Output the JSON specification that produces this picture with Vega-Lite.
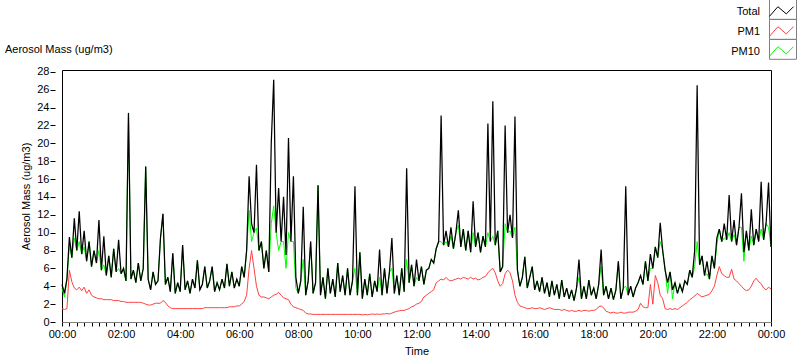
{
"$schema": "https://vega.github.io/schema/vega-lite/v6.json",
"width": 709, "height": 252,
"autosize": "none",
"padding": {"left": 62, "top": 70, "right": 29, "bottom": 39},
"background": "white",
"config": {"font": "Liberation Sans", "view": {"stroke": "black", "strokeWidth": 1}, "axisY": {"labelOverlap": false, "values": [0,2,4,6,8,10,12,14,16,18,20,22,24,26,28]}},
"title": {"text": "Aerosol Mass (ug/m3)", "anchor": "start", "frame": "group", "orient": "top", "dx": -57, "dy": 82, "offset": 17, "baseline": "alphabetic", "fontSize": 11, "fontWeight": "normal", "font": "Liberation Sans", "color": "black"},
"data": {"values": [
{"m":0,"Total":4.2,"PM1":1.5,"PM10":3.8},
{"m":5,"Total":3.2,"PM1":1.4,"PM10":2.8},
{"m":10,"Total":4.8,"PM1":1.5,"PM10":4.8},
{"m":15,"Total":9.5,"PM1":5.8,"PM10":8.6},
{"m":20,"Total":7.2,"PM1":4.5,"PM10":7.2},
{"m":25,"Total":11.6,"PM1":3.8,"PM10":9.4},
{"m":30,"Total":8.0,"PM1":3.6,"PM10":8.0},
{"m":35,"Total":12.4,"PM1":3.9,"PM10":9.0},
{"m":40,"Total":7.6,"PM1":3.5,"PM10":7.6},
{"m":45,"Total":10.2,"PM1":3.9,"PM10":8.4},
{"m":50,"Total":6.8,"PM1":3.2,"PM10":6.8},
{"m":55,"Total":9.0,"PM1":3.6,"PM10":9.0},
{"m":60,"Total":6.2,"PM1":3.0,"PM10":6.2},
{"m":65,"Total":8.0,"PM1":2.8,"PM10":8.0},
{"m":70,"Total":6.6,"PM1":2.7,"PM10":6.6},
{"m":75,"Total":11.4,"PM1":2.6,"PM10":8.0},
{"m":80,"Total":5.8,"PM1":2.6,"PM10":5.8},
{"m":85,"Total":9.6,"PM1":2.5,"PM10":6.4},
{"m":90,"Total":5.2,"PM1":2.5,"PM10":5.2},
{"m":95,"Total":7.4,"PM1":2.5,"PM10":7.4},
{"m":100,"Total":5.0,"PM1":2.5,"PM10":5.0},
{"m":105,"Total":8.2,"PM1":2.4,"PM10":8.2},
{"m":110,"Total":5.6,"PM1":2.4,"PM10":5.6},
{"m":115,"Total":9.2,"PM1":2.4,"PM10":6.0},
{"m":120,"Total":5.4,"PM1":2.3,"PM10":5.4},
{"m":125,"Total":6.0,"PM1":2.3,"PM10":6.0},
{"m":130,"Total":4.6,"PM1":2.2,"PM10":4.6},
{"m":135,"Total":23.4,"PM1":2.2,"PM10":23.4},
{"m":140,"Total":4.8,"PM1":2.2,"PM10":4.8},
{"m":145,"Total":5.8,"PM1":2.2,"PM10":5.8},
{"m":150,"Total":4.4,"PM1":2.2,"PM10":4.4},
{"m":155,"Total":6.6,"PM1":2.2,"PM10":6.6},
{"m":160,"Total":4.6,"PM1":2.2,"PM10":4.6},
{"m":165,"Total":6.0,"PM1":2.1,"PM10":6.0},
{"m":170,"Total":17.4,"PM1":2.0,"PM10":17.4},
{"m":175,"Total":4.8,"PM1":1.9,"PM10":4.8},
{"m":180,"Total":3.6,"PM1":1.9,"PM10":3.6},
{"m":185,"Total":5.6,"PM1":2.0,"PM10":5.6},
{"m":190,"Total":4.2,"PM1":2.1,"PM10":4.2},
{"m":195,"Total":4.6,"PM1":2.1,"PM10":4.6},
{"m":200,"Total":9.4,"PM1":2.1,"PM10":9.4},
{"m":205,"Total":12.1,"PM1":2.4,"PM10":12.1},
{"m":210,"Total":4.2,"PM1":2.2,"PM10":4.2},
{"m":215,"Total":5.0,"PM1":1.8,"PM10":5.0},
{"m":220,"Total":3.4,"PM1":1.6,"PM10":3.4},
{"m":225,"Total":7.7,"PM1":1.5,"PM10":7.7},
{"m":230,"Total":3.2,"PM1":1.5,"PM10":3.2},
{"m":235,"Total":4.4,"PM1":1.5,"PM10":4.4},
{"m":240,"Total":3.4,"PM1":1.5,"PM10":3.4},
{"m":245,"Total":8.6,"PM1":1.5,"PM10":8.6},
{"m":250,"Total":3.6,"PM1":1.5,"PM10":3.6},
{"m":255,"Total":4.6,"PM1":1.5,"PM10":4.6},
{"m":260,"Total":3.2,"PM1":1.5,"PM10":3.2},
{"m":265,"Total":4.8,"PM1":1.5,"PM10":4.8},
{"m":270,"Total":3.8,"PM1":1.5,"PM10":3.8},
{"m":275,"Total":6.9,"PM1":1.5,"PM10":6.9},
{"m":280,"Total":3.6,"PM1":1.5,"PM10":3.6},
{"m":285,"Total":4.2,"PM1":1.5,"PM10":4.2},
{"m":290,"Total":6.2,"PM1":1.6,"PM10":6.2},
{"m":295,"Total":3.8,"PM1":1.6,"PM10":3.8},
{"m":300,"Total":4.6,"PM1":1.6,"PM10":4.6},
{"m":305,"Total":6.2,"PM1":1.6,"PM10":6.2},
{"m":310,"Total":3.4,"PM1":1.6,"PM10":3.4},
{"m":315,"Total":4.4,"PM1":1.6,"PM10":4.4},
{"m":320,"Total":3.6,"PM1":1.6,"PM10":3.6},
{"m":325,"Total":4.8,"PM1":1.6,"PM10":4.8},
{"m":330,"Total":3.8,"PM1":1.6,"PM10":3.8},
{"m":335,"Total":6.5,"PM1":1.6,"PM10":6.5},
{"m":340,"Total":4.0,"PM1":1.7,"PM10":4.0},
{"m":345,"Total":5.6,"PM1":1.7,"PM10":5.6},
{"m":350,"Total":3.8,"PM1":1.7,"PM10":3.8},
{"m":355,"Total":4.8,"PM1":1.8,"PM10":4.8},
{"m":360,"Total":4.0,"PM1":1.8,"PM10":4.0},
{"m":365,"Total":6.2,"PM1":2.0,"PM10":6.2},
{"m":370,"Total":5.0,"PM1":2.3,"PM10":5.0},
{"m":375,"Total":8.0,"PM1":3.0,"PM10":8.0},
{"m":380,"Total":16.3,"PM1":6.0,"PM10":12.5},
{"m":385,"Total":11.0,"PM1":8.0,"PM10":9.0},
{"m":390,"Total":10.0,"PM1":6.0,"PM10":10.0},
{"m":395,"Total":17.6,"PM1":4.0,"PM10":10.5},
{"m":400,"Total":8.0,"PM1":3.0,"PM10":8.0},
{"m":405,"Total":9.0,"PM1":2.8,"PM10":9.0},
{"m":410,"Total":6.0,"PM1":2.8,"PM10":6.0},
{"m":415,"Total":8.0,"PM1":2.7,"PM10":8.0},
{"m":420,"Total":5.6,"PM1":2.6,"PM10":5.6},
{"m":425,"Total":20.0,"PM1":2.8,"PM10":11.0},
{"m":430,"Total":27.1,"PM1":3.0,"PM10":13.0},
{"m":435,"Total":10.0,"PM1":3.1,"PM10":10.0},
{"m":440,"Total":15.0,"PM1":3.3,"PM10":8.0},
{"m":445,"Total":9.0,"PM1":3.0,"PM10":9.0},
{"m":450,"Total":14.0,"PM1":2.7,"PM10":9.0},
{"m":455,"Total":7.5,"PM1":2.6,"PM10":6.0},
{"m":460,"Total":20.6,"PM1":2.5,"PM10":10.0},
{"m":465,"Total":9.0,"PM1":2.0,"PM10":9.0},
{"m":470,"Total":16.3,"PM1":1.7,"PM10":9.0},
{"m":475,"Total":5.0,"PM1":1.6,"PM10":3.8},
{"m":480,"Total":3.2,"PM1":1.5,"PM10":3.2},
{"m":485,"Total":4.6,"PM1":1.4,"PM10":4.6},
{"m":490,"Total":12.9,"PM1":1.3,"PM10":7.0},
{"m":495,"Total":3.0,"PM1":1.0,"PM10":3.0},
{"m":500,"Total":4.6,"PM1":0.9,"PM10":4.6},
{"m":505,"Total":9.0,"PM1":0.9,"PM10":9.0},
{"m":510,"Total":3.2,"PM1":0.85,"PM10":3.2},
{"m":515,"Total":4.4,"PM1":0.85,"PM10":4.4},
{"m":520,"Total":15.3,"PM1":0.85,"PM10":15.3},
{"m":525,"Total":3.0,"PM1":0.85,"PM10":3.0},
{"m":530,"Total":5.0,"PM1":0.85,"PM10":5.0},
{"m":535,"Total":2.6,"PM1":0.85,"PM10":2.6},
{"m":540,"Total":6.0,"PM1":0.85,"PM10":6.0},
{"m":545,"Total":3.2,"PM1":0.85,"PM10":3.2},
{"m":550,"Total":4.8,"PM1":0.85,"PM10":4.8},
{"m":555,"Total":2.8,"PM1":0.85,"PM10":2.8},
{"m":560,"Total":6.6,"PM1":0.85,"PM10":6.6},
{"m":565,"Total":3.4,"PM1":0.85,"PM10":3.4},
{"m":570,"Total":5.2,"PM1":0.85,"PM10":5.2},
{"m":575,"Total":3.0,"PM1":0.85,"PM10":3.0},
{"m":580,"Total":6.0,"PM1":0.85,"PM10":6.0},
{"m":585,"Total":3.0,"PM1":0.85,"PM10":3.0},
{"m":590,"Total":4.6,"PM1":0.85,"PM10":4.6},
{"m":595,"Total":15.2,"PM1":0.85,"PM10":6.0},
{"m":600,"Total":3.0,"PM1":0.85,"PM10":3.0},
{"m":605,"Total":7.8,"PM1":0.85,"PM10":7.8},
{"m":610,"Total":2.6,"PM1":0.8,"PM10":2.6},
{"m":615,"Total":4.8,"PM1":0.85,"PM10":4.8},
{"m":620,"Total":3.0,"PM1":0.8,"PM10":3.0},
{"m":625,"Total":5.4,"PM1":0.85,"PM10":5.4},
{"m":630,"Total":2.8,"PM1":0.9,"PM10":2.8},
{"m":635,"Total":4.6,"PM1":0.85,"PM10":4.6},
{"m":640,"Total":3.4,"PM1":0.9,"PM10":3.4},
{"m":645,"Total":8.1,"PM1":0.85,"PM10":5.0},
{"m":650,"Total":3.0,"PM1":0.9,"PM10":3.0},
{"m":655,"Total":6.0,"PM1":0.9,"PM10":6.0},
{"m":660,"Total":3.2,"PM1":0.95,"PM10":3.2},
{"m":665,"Total":5.6,"PM1":0.9,"PM10":5.6},
{"m":670,"Total":9.4,"PM1":1.0,"PM10":6.0},
{"m":675,"Total":3.2,"PM1":1.1,"PM10":3.2},
{"m":680,"Total":5.2,"PM1":1.2,"PM10":5.2},
{"m":685,"Total":3.0,"PM1":1.25,"PM10":3.0},
{"m":690,"Total":6.0,"PM1":1.3,"PM10":6.0},
{"m":695,"Total":3.4,"PM1":1.3,"PM10":3.4},
{"m":700,"Total":17.2,"PM1":1.4,"PM10":7.0},
{"m":705,"Total":4.4,"PM1":1.5,"PM10":4.4},
{"m":710,"Total":6.4,"PM1":1.7,"PM10":6.4},
{"m":715,"Total":4.0,"PM1":1.8,"PM10":4.0},
{"m":720,"Total":7.0,"PM1":2.0,"PM10":5.0},
{"m":725,"Total":4.6,"PM1":2.1,"PM10":4.6},
{"m":730,"Total":6.2,"PM1":2.3,"PM10":6.2},
{"m":735,"Total":4.2,"PM1":2.8,"PM10":4.2},
{"m":740,"Total":5.8,"PM1":3.0,"PM10":5.8},
{"m":745,"Total":6.0,"PM1":3.2,"PM10":6.0},
{"m":750,"Total":7.0,"PM1":3.4,"PM10":7.0},
{"m":755,"Total":6.6,"PM1":3.6,"PM10":6.6},
{"m":760,"Total":8.2,"PM1":4.4,"PM10":8.2},
{"m":765,"Total":9.0,"PM1":4.6,"PM10":9.0},
{"m":770,"Total":23.1,"PM1":4.8,"PM10":9.0},
{"m":775,"Total":8.6,"PM1":4.7,"PM10":8.6},
{"m":780,"Total":10.2,"PM1":5.0,"PM10":9.0},
{"m":785,"Total":8.4,"PM1":4.7,"PM10":8.4},
{"m":790,"Total":10.6,"PM1":4.6,"PM10":9.6},
{"m":795,"Total":8.2,"PM1":4.7,"PM10":8.2},
{"m":800,"Total":10.0,"PM1":4.8,"PM10":10.0},
{"m":805,"Total":12.5,"PM1":4.9,"PM10":10.8},
{"m":810,"Total":8.4,"PM1":4.8,"PM10":8.4},
{"m":815,"Total":10.4,"PM1":5.0,"PM10":10.4},
{"m":820,"Total":8.0,"PM1":4.9,"PM10":8.0},
{"m":825,"Total":10.2,"PM1":4.8,"PM10":10.2},
{"m":830,"Total":7.8,"PM1":5.0,"PM10":7.8},
{"m":835,"Total":13.5,"PM1":4.8,"PM10":10.0},
{"m":840,"Total":8.4,"PM1":4.9,"PM10":8.4},
{"m":845,"Total":10.0,"PM1":4.7,"PM10":10.0},
{"m":850,"Total":7.8,"PM1":4.8,"PM10":7.8},
{"m":855,"Total":9.6,"PM1":5.0,"PM10":9.6},
{"m":860,"Total":8.4,"PM1":5.1,"PM10":8.4},
{"m":865,"Total":22.2,"PM1":5.5,"PM10":10.0},
{"m":870,"Total":9.0,"PM1":5.8,"PM10":9.0},
{"m":875,"Total":24.7,"PM1":6.0,"PM10":9.6},
{"m":880,"Total":8.6,"PM1":5.5,"PM10":8.6},
{"m":885,"Total":10.2,"PM1":4.6,"PM10":10.2},
{"m":890,"Total":5.6,"PM1":4.0,"PM10":5.6},
{"m":895,"Total":6.2,"PM1":4.3,"PM10":6.2},
{"m":900,"Total":22.0,"PM1":5.4,"PM10":11.0},
{"m":905,"Total":10.0,"PM1":5.8,"PM10":10.0},
{"m":910,"Total":12.0,"PM1":5.5,"PM10":10.2},
{"m":915,"Total":9.4,"PM1":4.6,"PM10":9.4},
{"m":920,"Total":23.0,"PM1":3.0,"PM10":10.6},
{"m":925,"Total":5.8,"PM1":2.2,"PM10":5.8},
{"m":930,"Total":4.0,"PM1":1.8,"PM10":4.0},
{"m":935,"Total":5.0,"PM1":1.7,"PM10":5.0},
{"m":940,"Total":7.3,"PM1":1.6,"PM10":7.3},
{"m":945,"Total":3.8,"PM1":1.5,"PM10":3.8},
{"m":950,"Total":5.0,"PM1":1.5,"PM10":5.0},
{"m":955,"Total":6.2,"PM1":1.6,"PM10":6.2},
{"m":960,"Total":3.6,"PM1":1.5,"PM10":3.6},
{"m":965,"Total":4.6,"PM1":1.5,"PM10":4.6},
{"m":970,"Total":3.4,"PM1":1.6,"PM10":3.4},
{"m":975,"Total":5.0,"PM1":1.5,"PM10":5.0},
{"m":980,"Total":3.2,"PM1":1.4,"PM10":3.2},
{"m":985,"Total":4.4,"PM1":1.5,"PM10":4.4},
{"m":990,"Total":2.8,"PM1":1.6,"PM10":2.8},
{"m":995,"Total":4.6,"PM1":1.5,"PM10":4.6},
{"m":1000,"Total":3.0,"PM1":1.4,"PM10":3.0},
{"m":1005,"Total":4.2,"PM1":1.4,"PM10":4.2},
{"m":1010,"Total":2.6,"PM1":1.4,"PM10":2.6},
{"m":1015,"Total":4.7,"PM1":1.3,"PM10":4.7},
{"m":1020,"Total":2.8,"PM1":1.4,"PM10":2.8},
{"m":1025,"Total":3.8,"PM1":1.3,"PM10":3.8},
{"m":1030,"Total":2.6,"PM1":1.2,"PM10":2.6},
{"m":1035,"Total":3.6,"PM1":1.3,"PM10":3.6},
{"m":1040,"Total":2.4,"PM1":1.2,"PM10":2.4},
{"m":1045,"Total":3.8,"PM1":1.2,"PM10":3.8},
{"m":1050,"Total":7.0,"PM1":1.3,"PM10":5.0},
{"m":1055,"Total":2.6,"PM1":1.2,"PM10":2.6},
{"m":1060,"Total":4.0,"PM1":1.3,"PM10":4.0},
{"m":1065,"Total":2.6,"PM1":1.3,"PM10":2.6},
{"m":1070,"Total":4.7,"PM1":1.2,"PM10":4.7},
{"m":1075,"Total":3.0,"PM1":1.3,"PM10":3.0},
{"m":1080,"Total":3.8,"PM1":1.3,"PM10":3.8},
{"m":1085,"Total":2.6,"PM1":1.4,"PM10":2.6},
{"m":1090,"Total":4.2,"PM1":1.7,"PM10":4.2},
{"m":1095,"Total":8.1,"PM1":1.8,"PM10":6.2},
{"m":1100,"Total":3.0,"PM1":1.6,"PM10":3.0},
{"m":1105,"Total":4.0,"PM1":1.2,"PM10":4.0},
{"m":1110,"Total":2.6,"PM1":1.1,"PM10":2.6},
{"m":1115,"Total":3.8,"PM1":1.0,"PM10":3.8},
{"m":1120,"Total":2.5,"PM1":1.1,"PM10":2.5},
{"m":1125,"Total":3.6,"PM1":1.0,"PM10":3.6},
{"m":1130,"Total":6.8,"PM1":1.0,"PM10":6.8},
{"m":1135,"Total":2.6,"PM1":1.1,"PM10":2.6},
{"m":1140,"Total":3.8,"PM1":1.0,"PM10":3.8},
{"m":1145,"Total":15.2,"PM1":1.0,"PM10":4.0},
{"m":1150,"Total":3.0,"PM1":1.1,"PM10":3.0},
{"m":1155,"Total":4.0,"PM1":1.1,"PM10":4.0},
{"m":1160,"Total":2.8,"PM1":1.1,"PM10":2.8},
{"m":1165,"Total":3.8,"PM1":1.2,"PM10":3.8},
{"m":1170,"Total":4.4,"PM1":1.4,"PM10":4.4},
{"m":1175,"Total":5.2,"PM1":2.1,"PM10":5.2},
{"m":1180,"Total":4.2,"PM1":1.7,"PM10":4.2},
{"m":1185,"Total":6.8,"PM1":1.6,"PM10":6.8},
{"m":1190,"Total":4.6,"PM1":1.6,"PM10":4.6},
{"m":1195,"Total":7.6,"PM1":4.2,"PM10":6.0},
{"m":1200,"Total":6.0,"PM1":2.0,"PM10":6.0},
{"m":1205,"Total":8.4,"PM1":5.2,"PM10":8.4},
{"m":1210,"Total":7.2,"PM1":4.4,"PM10":7.2},
{"m":1215,"Total":11.1,"PM1":3.0,"PM10":9.0},
{"m":1220,"Total":8.0,"PM1":2.6,"PM10":8.0},
{"m":1225,"Total":5.8,"PM1":1.5,"PM10":5.8},
{"m":1230,"Total":4.4,"PM1":1.4,"PM10":3.2},
{"m":1235,"Total":5.6,"PM1":1.5,"PM10":5.6},
{"m":1240,"Total":3.6,"PM1":1.4,"PM10":2.6},
{"m":1245,"Total":4.4,"PM1":1.5,"PM10":4.4},
{"m":1250,"Total":3.2,"PM1":1.4,"PM10":3.2},
{"m":1255,"Total":4.2,"PM1":1.6,"PM10":4.2},
{"m":1260,"Total":3.4,"PM1":1.8,"PM10":3.4},
{"m":1265,"Total":4.6,"PM1":2.0,"PM10":4.6},
{"m":1270,"Total":4.2,"PM1":2.2,"PM10":4.2},
{"m":1275,"Total":5.8,"PM1":2.5,"PM10":5.8},
{"m":1280,"Total":5.0,"PM1":2.7,"PM10":5.0},
{"m":1285,"Total":8.0,"PM1":2.9,"PM10":6.2},
{"m":1290,"Total":26.5,"PM1":3.2,"PM10":9.0},
{"m":1295,"Total":6.4,"PM1":3.0,"PM10":6.4},
{"m":1300,"Total":7.4,"PM1":2.8,"PM10":7.4},
{"m":1305,"Total":5.2,"PM1":2.9,"PM10":5.2},
{"m":1310,"Total":6.8,"PM1":3.0,"PM10":5.4},
{"m":1315,"Total":4.8,"PM1":3.1,"PM10":4.8},
{"m":1320,"Total":7.4,"PM1":3.5,"PM10":7.4},
{"m":1325,"Total":6.0,"PM1":4.0,"PM10":6.0},
{"m":1330,"Total":9.4,"PM1":5.2,"PM10":8.6},
{"m":1335,"Total":10.4,"PM1":6.2,"PM10":10.4},
{"m":1340,"Total":9.0,"PM1":5.4,"PM10":9.0},
{"m":1345,"Total":11.0,"PM1":5.2,"PM10":9.4},
{"m":1350,"Total":9.2,"PM1":5.0,"PM10":9.2},
{"m":1355,"Total":14.2,"PM1":5.0,"PM10":10.0},
{"m":1360,"Total":9.0,"PM1":5.9,"PM10":9.0},
{"m":1365,"Total":11.4,"PM1":4.8,"PM10":9.8},
{"m":1370,"Total":8.6,"PM1":4.6,"PM10":8.6},
{"m":1375,"Total":10.6,"PM1":4.3,"PM10":10.6},
{"m":1380,"Total":14.4,"PM1":4.0,"PM10":10.6},
{"m":1385,"Total":7.8,"PM1":3.7,"PM10":6.8},
{"m":1390,"Total":10.2,"PM1":3.5,"PM10":10.2},
{"m":1395,"Total":8.0,"PM1":3.6,"PM10":8.0},
{"m":1400,"Total":12.6,"PM1":4.0,"PM10":9.6},
{"m":1405,"Total":8.6,"PM1":4.6,"PM10":8.6},
{"m":1410,"Total":10.4,"PM1":4.9,"PM10":10.4},
{"m":1415,"Total":9.0,"PM1":4.5,"PM10":9.0},
{"m":1420,"Total":15.7,"PM1":4.3,"PM10":10.4},
{"m":1425,"Total":9.2,"PM1":3.8,"PM10":9.2},
{"m":1430,"Total":11.0,"PM1":3.6,"PM10":11.0},
{"m":1435,"Total":15.6,"PM1":3.9,"PM10":10.6},
{"m":1440,"Total":8.4,"PM1":3.7,"PM10":8.4}
]},
"encoding": {
  "x": {"field": "m", "type": "quantitative",
    "scale": {"domain": [0, 1440], "nice": false, "zero": false},
    "axis": {"title": "Time", "values": [0,15,30,45,60,75,90,105,120,135,150,165,180,195,210,225,240,255,270,285,300,315,330,345,360,375,390,405,420,435,450,465,480,495,510,525,540,555,570,585,600,615,630,645,660,675,690,705,720,735,750,765,780,795,810,825,840,855,870,885,900,915,930,945,960,975,990,1005,1020,1035,1050,1065,1080,1095,1110,1125,1140,1155,1170,1185,1200,1215,1230,1245,1260,1275,1290,1305,1320,1335,1350,1365,1380,1395,1410,1425,1440],
      "labelExpr": "datum.value % 120 == 0 ? (floor(datum.value/60) % 24 < 10 ? '0' : '') + (floor(datum.value/60) % 24) + ':00' : ''",
      "labelOverlap": false, "labelFlush": false, "grid": false, "tickSize": 4, "tickColor": "black", "domainColor": "#808080",
      "labelFontSize": 11, "labelColor": "black", "labelFont": "Liberation Sans", "labelPadding": 2,
      "titleFontSize": 11, "titleFontWeight": "normal", "titleColor": "black", "titleFont": "Liberation Sans", "titlePadding": 6}}
},
"layer": [
  {"mark": {"type": "line", "strokeWidth": 1},
   "encoding": {"y": {"field": "PM10", "type": "quantitative", "scale": {"domain": [0, 28.2], "nice": false},
      "axis": {"title": "Aerosol Mass (ug/m3)", "values": [0,2,4,6,8,10,12,14,16,18,20,22,24,26,28], "labelOverlap": false, "grid": false, "domain": false, "offset": 7, "tickSize": 5, "tickColor": "black", "labelPadding": 1, "labelFontSize": 11, "labelColor": "black", "labelFont": "Liberation Sans", "titleFontSize": 11, "titleFontWeight": "normal", "titleColor": "black", "titleFont": "Liberation Sans", "titlePadding": 5}},
     "color": {"datum": "PM10", "type": "nominal",
       "scale": {"domain": ["Total", "PM1", "PM10"], "range": ["#000000", "#ff4040", "#00ff00"]},
       "legend": {"orient": "none", "legendX": 707, "legendY": -71, "title": null, "symbolType": "M-1,0.4L-0.3,-0.4L0.4,0.2L1,-0.4", "symbolSize": 576, "symbolStrokeWidth": 1, "symbolFillColor": "transparent", "labelAlign": "right", "labelOffset": -34, "labelFontSize": 11, "labelColor": "black", "labelFont": "Liberation Sans", "rowPadding": -5,
         "encode": {"entries": {"update": {"stroke": {"value": "#808080"}, "strokeWidth": {"value": 1}, "width": {"value": 28}, "height": {"value": 16}}}}}}}},
  {"mark": {"type": "line", "strokeWidth": 1},
   "encoding": {"y": {"field": "PM1", "type": "quantitative", "axis": {"title": "Aerosol Mass (ug/m3)", "values": [0,2,4,6,8,10,12,14,16,18,20,22,24,26,28], "labelOverlap": false, "grid": false, "domain": false, "offset": 7, "tickSize": 5, "tickColor": "black", "labelPadding": 1, "labelFontSize": 11, "labelColor": "black", "labelFont": "Liberation Sans", "titleFontSize": 11, "titleFontWeight": "normal", "titleColor": "black", "titleFont": "Liberation Sans", "titlePadding": 5}},
     "color": {"datum": "PM1", "type": "nominal"}}},
  {"mark": {"type": "line", "strokeWidth": 1.25},
   "encoding": {"y": {"field": "Total", "type": "quantitative", "axis": {"title": "Aerosol Mass (ug/m3)", "values": [0,2,4,6,8,10,12,14,16,18,20,22,24,26,28], "labelOverlap": false, "grid": false, "domain": false, "offset": 7, "tickSize": 5, "tickColor": "black", "labelPadding": 1, "labelFontSize": 11, "labelColor": "black", "labelFont": "Liberation Sans", "titleFontSize": 11, "titleFontWeight": "normal", "titleColor": "black", "titleFont": "Liberation Sans", "titlePadding": 5}},
     "color": {"datum": "Total", "type": "nominal"}}}
]
}
